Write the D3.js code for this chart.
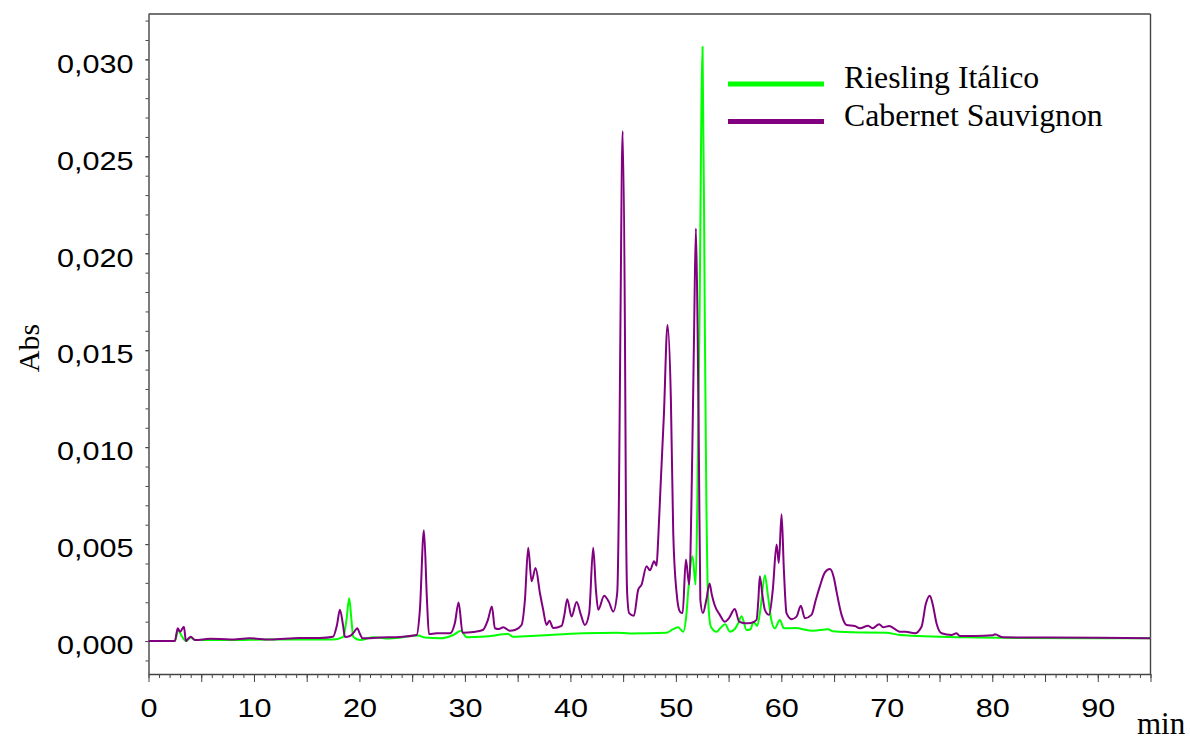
<!DOCTYPE html>
<html>
<head>
<meta charset="utf-8">
<script src="https://cdn.jsdelivr.net/npm/d3@7"></script>
<style>
  body { margin: 0; background: #fff; }
  svg { display: block; }
</style>
</head>
<body>
<svg id="chart" width="1190" height="740"></svg>
<script>
// retention time (min) and absorbance (mAU, converted to AU below)
var rieslingTime = [0, 2.5, 2.82, 3.15, 3.55, 4.0, 4.41, 7.73, 11.5, 14.36,
  17.49, 18.46, 18.77, 19.03, 19.24, 19.41, 20.05, 21.3, 22.89, 25.57,
  26.21, 27.63, 28.89, 29.62, 30.16, 31.9, 34.1, 34.58, 37.11, 41.21,
  44.38, 45.64, 49.12, 49.74, 50.22, 50.69, 51.01, 51.18, 51.58, 51.87,
  52.04, 52.23, 52.53, 52.75, 52.89, 53.06, 53.32, 53.86, 54.22, 54.67,
  55.12, 55.59, 55.91, 56.23, 56.7, 57.08, 57.35, 57.71, 58.01, 58.44,
  58.72, 59.05, 59.38, 59.86, 60.24, 61.28, 63.01, 64.44, 64.91, 67.44,
  69.97, 71.23, 77.56, 82.3, 95];
var rieslingMAU = [0, 0, 0.57, 0.26, 0, 0.18, 0.05, 0.05, 0.08, 0.08,
  0.08, 0.22, 1.09, 2.21, 1.09, 0.22, 0.05, 0.19, 0.13, 0.28,
  0.18, 0.14, 0.31, 0.53, 0.19, 0.23, 0.36, 0.22, 0.29, 0.40,
  0.43, 0.39, 0.43, 0.61, 0.71, 0.48, 1.44, 2.65, 4.37, 2.91,
  7.3, 16.05, 30.65, 16.05, 7.3, 2.13, 0.74, 0.48, 0.67, 0.87,
  0.48, 0.62, 0.92, 1.28, 0.57, 0.61, 1.0, 0.78, 1.61, 3.39,
  2.39, 1.09, 0.65, 1.09, 0.66, 0.67, 0.53, 0.61, 0.50, 0.44,
  0.43, 0.31, 0.19, 0.16, 0.14];

var cabernetTime = [0, 2.5, 2.77, 2.99, 3.36, 3.55, 3.74, 4.0, 4.41, 5.83,
  7.73, 9.6, 11.5, 14.36, 16.25, 17.49, 17.87, 18.15, 18.44, 18.63,
  19.1, 19.5, 19.79, 20.05, 20.3, 21.94, 23.84, 25.42, 25.73, 26.11,
  26.4, 26.59, 27.32, 28.58, 29.05, 29.4, 29.78, 30.79, 31.7, 32.18,
  32.56, 32.84, 33.22, 33.63, 34.27, 34.74, 35.37, 35.69, 36.0, 36.32,
  36.7, 37.11, 37.42, 37.74, 38.01, 38.37, 39.17, 39.43, 39.7, 40.11,
  40.59, 41.0, 41.37, 41.78, 42.16, 42.42, 42.64, 43.2, 43.65, 44.06,
  44.44, 44.6, 44.74, 44.95, 45.17, 45.26, 45.38, 45.57, 46.02, 46.43,
  46.75, 47.22, 47.54, 47.94, 48.17, 48.32, 48.55, 48.86, 49.21, 49.53,
  49.75, 50.07, 50.38, 50.64, 50.95, 51.26, 51.56, 51.73, 51.9, 52.06,
  52.18, 52.32, 52.56, 52.89, 53.19, 53.41, 53.7, 54.17, 54.64, 55.02,
  55.59, 56.0, 56.54, 57.11, 57.65, 57.82, 57.96, 58.2, 58.44, 58.84,
  59.19, 59.55, 59.76, 60.02, 60.24, 60.49, 60.97, 61.44, 61.85, 62.23,
  62.86, 63.27, 63.65, 64.12, 64.6, 64.98, 65.23, 65.71, 66.18, 66.97,
  67.44, 68.23, 68.65, 69.27, 69.65, 70.22, 71.23, 71.8, 72.65, 73.29,
  73.7, 74.08, 74.36, 74.71, 75.19, 76.13, 76.61, 76.92, 78.34, 80.07,
  80.24, 81.02, 85.45, 90.19, 95];
var cabernetMAU = [0, 0, 0.66, 0.48, 0.74, 0.0, 0.1, 0.22, 0.05, 0.12,
  0.08, 0.14, 0.08, 0.16, 0.16, 0.22, 0.83, 1.61, 0.83, 0.21,
  0.26, 0.47, 0.66, 0.36, 0.14, 0.18, 0.21, 0.31, 1.61, 5.72,
  2.13, 0.36, 0.40, 0.40, 0.93, 1.99, 0.43, 0.47, 0.57, 1.09,
  1.78, 0.66, 0.62, 0.71, 0.53, 0.57, 0.83, 2.13, 4.81, 3.08,
  3.77, 2.48, 1.61, 0.83, 1.05, 0.67, 0.78, 1.35, 2.16, 1.26,
  2.01, 1.35, 0.83, 1.44, 4.81, 2.65, 1.61, 2.34, 2.02, 1.52,
  2.49, 7.3, 16.05, 26.3, 16.05, 7.3, 2.49, 1.44, 1.30, 2.65,
  2.91, 3.86, 3.65, 4.12, 3.89, 5.2, 8.0, 11.6, 16.3, 12.4,
  5.6, 2.48, 1.52, 1.44, 4.2, 2.91, 9.85, 16.05, 21.28, 16.05,
  9.85, 2.13, 1.44, 2.13, 2.97, 2.39, 1.82, 1.35, 1.0, 1.17,
  1.65, 1.0, 0.92, 0.93, 1.09, 2.13, 3.34, 2.39, 1.61, 1.35,
  2.65, 4.98, 4.03, 6.54, 3.68, 1.44, 1.13, 1.26, 1.82, 1.18,
  1.35, 2.13, 2.82, 3.53, 3.72, 3.27, 2.56, 1.35, 0.83, 0.78,
  0.66, 0.79, 0.66, 0.87, 0.71, 0.78, 0.48, 0.48, 0.40, 0.74,
  1.92, 2.34, 1.87, 0.92, 0.40, 0.31, 0.40, 0.26, 0.26, 0.30,
  0.35, 0.19, 0.18, 0.17, 0.14];

var yTicks = [0, 0.005, 0.010, 0.015, 0.020, 0.025, 0.030];
var xTicks = [0, 10, 20, 30, 40, 50, 60, 70, 80, 90];
var seriesNames = ['Riesling Itálico', 'Cabernet Sauvignon'];
var seriesColors = ['#00ff00', '#800080'];

var svg = d3.select('#chart');
var plotLeft = 148.5, plotRight = 1150.5, plotTop = 14, plotBottom = 674;

var x = d3.scaleLinear().domain([0, 95]).range([plotLeft, plotRight]);
var y = d3.scaleLinear().domain([-0.0017, 0.03234]).range([plotBottom, plotTop]);

var comma = d3.formatLocale({decimal: ',', thousands: '.', grouping: [3], currency: ['', '']}).format('.3f');

// y axis: minor ticks every 0.001, labels every 0.005
svg.append('g')
  .attr('transform', 'translate(' + plotLeft + ',0)')
  .call(d3.axisLeft(y).tickValues(d3.range(-0.001, 0.0325, 0.001)).tickSize(3).tickFormat(''))
  .call(function(g) { g.select('.domain').remove(); });

var yAxis = svg.append('g')
  .attr('transform', 'translate(' + plotLeft + ',0)')
  .call(d3.axisLeft(y).tickValues(yTicks).tickSize(3).tickFormat(comma).tickSizeOuter(0));

// x axis: minor every 1 min, longer every 5, labels every 10
svg.append('g')
  .attr('transform', 'translate(0,' + plotBottom + ')')
  .call(d3.axisBottom(x).tickValues(d3.range(0, 96, 1)).tickSize(4).tickFormat(''))
  .call(function(g) { g.select('.domain').remove(); });
svg.append('g')
  .attr('transform', 'translate(0,' + plotBottom + ')')
  .call(d3.axisBottom(x).tickValues(d3.range(5, 96, 10)).tickSize(8).tickFormat(''))
  .call(function(g) { g.select('.domain').remove(); });

var xAxis = svg.append('g')
  .attr('transform', 'translate(0,' + plotBottom + ')')
  .call(d3.axisBottom(x).tickValues(xTicks).tickSize(8).tickFormat(d3.format('d')).tickSizeOuter(0));

svg.selectAll('.tick line').attr('stroke', '#444');
svg.selectAll('.domain').attr('stroke', '#444').attr('stroke-width', 1.4);

yAxis.selectAll('text')
  .attr('font-family', 'Liberation Sans, Arial, sans-serif')
  .attr('font-size', 25.5)
  .attr('fill', '#000')
  .attr('x', -12.5)
  .attr('dy', '0.5em')
  .attr('transform', 'scale(1.2,1)');

xAxis.selectAll('text')
  .attr('font-family', 'Liberation Sans, Arial, sans-serif')
  .attr('font-size', 25.5)
  .attr('fill', '#000')
  .attr('y', 43)
  .attr('dy', 0)
  .attr('transform', 'scale(1.2,1)');

// frame top and right
svg.append('line').attr('x1', plotLeft).attr('x2', plotRight).attr('y1', plotTop).attr('y2', plotTop)
  .attr('stroke', '#444').attr('stroke-width', 1.4);
svg.append('line').attr('x1', plotRight).attr('x2', plotRight).attr('y1', plotTop).attr('y2', plotBottom)
  .attr('stroke', '#444').attr('stroke-width', 1.4);

var line = d3.line()
  .x(function(d) { return x(d[0]); })
  .y(function(d) { return y(d[1]); })
  .curve(d3.curveMonotoneX);

var riesling = d3.zip(rieslingTime, rieslingMAU.map(function(v) { return v / 1000; }));
var cabernet = d3.zip(cabernetTime, cabernetMAU.map(function(v) { return v / 1000; }));

svg.append('path').datum(riesling)
  .attr('d', line).attr('fill', 'none')
  .attr('stroke', seriesColors[0]).attr('stroke-width', 2).attr('stroke-linejoin', 'round');
svg.append('path').datum(cabernet)
  .attr('d', line).attr('fill', 'none')
  .attr('stroke', seriesColors[1]).attr('stroke-width', 2).attr('stroke-linejoin', 'round');

// axis titles
svg.append('text')
  .attr('transform', 'translate(39,348) rotate(-90)')
  .attr('text-anchor', 'middle')
  .attr('font-family', 'Liberation Serif, Times New Roman, serif')
  .attr('font-size', 30)
  .text('Abs');
svg.append('text')
  .attr('x', 1137).attr('y', 734)
  .attr('font-family', 'Liberation Serif, Times New Roman, serif')
  .attr('font-size', 31)
  .text('min');

// legend
var legend = svg.append('g').selectAll('g')
  .data(seriesNames)
  .enter().append('g')
  .attr('transform', function(d, i) { return 'translate(0,' + (84 + i * 37.5) + ')'; });
legend.append('line')
  .attr('x1', 728).attr('x2', 824)
  .attr('stroke', function(d, i) { return seriesColors[i]; })
  .attr('stroke-width', 5);
legend.append('text')
  .attr('x', 844).attr('y', 4)
  .attr('font-family', 'Liberation Serif, Times New Roman, serif')
  .attr('font-size', 31.8)
  .text(function(d) { return d; });
</script>
</body>
</html>
